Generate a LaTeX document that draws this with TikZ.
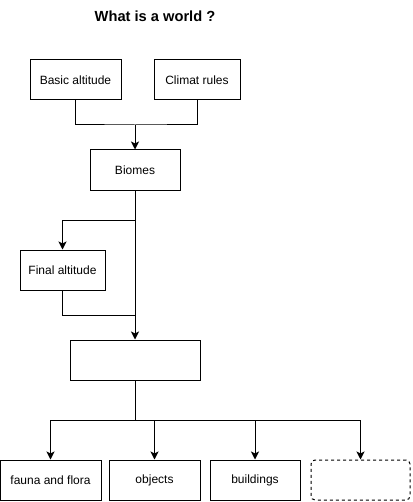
\documentclass[tikz,border=0pt]{standalone}
\usepackage{fontspec}
\setmainfont{Liberation Sans}
\usetikzlibrary{arrows.meta}
\begin{document}
\begin{tikzpicture}[x=0.75pt,y=-0.75pt,
  box/.style={draw,line width=0.75pt,inner sep=0pt,minimum height=30pt,font=\fontsize{9}{11}\selectfont},
  dbox/.style={box,dash pattern=on 2.25pt off 2.25pt,rounded corners=3pt},
  conn/.style={line width=0.75pt},
  arr/.style={conn,-{Stealth[length=6pt,width=6pt,inset=1.5pt]}}]
\useasboundingbox (0,0) rectangle (412,502);
\node[font=\bfseries\fontsize{11}{13}\selectfont] (title) at (155,16) {What is a world ?};
\node[box,minimum width=68.25pt] (ba) at (75.5,80) {Basic altitude};
\node[box,minimum width=64.5pt] (cr) at (197,80) {Climat rules};
\node[box,minimum width=67.5pt] (bio) at (135,170) {Biomes};
\node[box,minimum width=63.75pt] (fa) at (62.5,270) {Final altitude};
\node[box,minimum width=97.5pt] (blank) at (135,360) {};
\node[box,minimum width=75.75pt] (ff) at (50.5,480) {fauna and flora};
\node[box,minimum width=68.25pt] (obj) at (154.5,480) {objects};
\node[box,minimum width=67.5pt] (bld) at (255,480) {buildings};
\node[dbox,minimum width=74.25pt] (dsh) at (360.5,480) {};
\coordinate (j1) at (135,125);
\coordinate (j2) at (135,220);
\coordinate (j3) at (135,315);
\coordinate (j4) at (135,420);
\draw[conn] (ba.south) |- (j1) -| (cr.south);
\draw[arr] (j1) -- (bio.north);
\draw[arr] (bio.south) -- (blank.north);
\draw[arr] (j2) -| (fa.north);
\draw[conn] (fa.south) |- (j3);
\draw[conn] (blank.south) -- (j4);
\draw[arr] (j4) -| (ff.north);
\draw[arr] (j4) -| (obj.north);
\draw[arr] (j4) -| (bld.north);
\draw[arr] (j4) -| (dsh.north);
\end{tikzpicture}
\end{document}
